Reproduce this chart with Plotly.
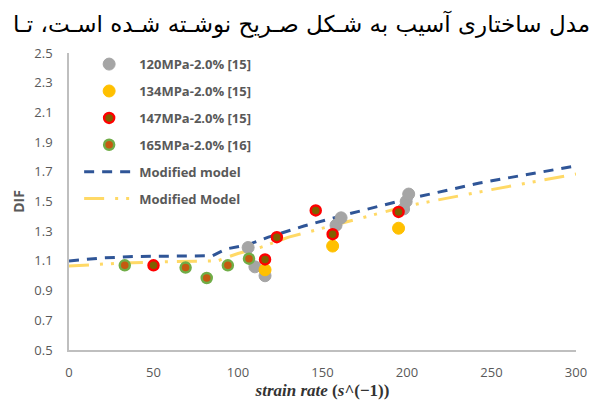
import plotly.graph_objects as go

# ---- data ----
x_120 = [106, 110, 116, 158, 161, 198, 199.5, 201]
y_120 = [1.19, 1.06, 1.00, 1.34, 1.39, 1.45, 1.50, 1.55]

x_134 = [116, 156, 195]
y_134 = [1.04, 1.20, 1.32]

x_147 = [50, 116, 123, 146, 156, 195]
y_147 = [1.07, 1.11, 1.26, 1.44, 1.28, 1.43]

x_165 = [33, 69, 81.5, 94, 106.5]
y_165 = [1.07, 1.055, 0.985, 1.07, 1.115]

x_mod1 = [0, 20, 40, 85, 93, 106, 118, 130, 139, 165, 198, 243, 300]
y_mod1 = [1.10, 1.12, 1.13, 1.135, 1.18, 1.21, 1.26, 1.30, 1.335, 1.415, 1.51, 1.625, 1.74]

x_mod2 = [0, 30, 60, 88, 95, 100, 113, 130, 160, 200, 250, 300]
y_mod2 = [1.065, 1.085, 1.095, 1.10, 1.13, 1.15, 1.19, 1.26, 1.35, 1.47, 1.58, 1.685]

names = ["120MPa-2.0% [15]", "134MPa-2.0% [15]", "147MPa-2.0% [15]",
         "165MPa-2.0% [16]", "Modified model", "Modified Model"]

x_ticks = [0, 50, 100, 150, 200, 250, 300]
y_ticks = [0.5, 0.7, 0.9, 1.1, 1.3, 1.5, 1.7, 1.9, 2.1, 2.3, 2.5]

title_text = "مدل ساختاری آسیب به شـکل صـریح نوشـته شـده اسـت، تـا"

fig = go.Figure()

fig.add_trace(go.Scatter(x=x_mod1, y=y_mod1, mode="lines", name=names[4],
                         line=dict(color="#2F5597", width=3, dash="10px,8px"),
                         legendgroup="e", legendrank=5))
fig.add_trace(go.Scatter(x=x_mod2, y=y_mod2, mode="lines", name=names[5],
                         line=dict(color="#FFD966", width=3,
                                   dash="20px,11px,3px,8px,3px,9px"),
                         legendgroup="f", legendrank=6))

fig.add_trace(go.Scatter(x=x_120, y=y_120, mode="markers", name=names[0],
                         marker=dict(color="#A5A5A5", size=12,
                                     line=dict(color="#A5A5A5", width=1)),
                         legendgroup="a", legendrank=1))
fig.add_trace(go.Scatter(x=x_134, y=y_134, mode="markers", name=names[1],
                         marker=dict(color="#FFC000", size=12,
                                     line=dict(color="#FFC000", width=1)),
                         legendgroup="b", legendrank=2))
fig.add_trace(go.Scatter(x=x_147, y=y_147, mode="markers", name=names[2],
                         marker=dict(color="#7F6000", size=10,
                                     line=dict(color="#FF0000", width=2.5)),
                         legendgroup="c", legendrank=3))
fig.add_trace(go.Scatter(x=x_165, y=y_165, mode="markers", name=names[3],
                         marker=dict(color="#C55A11", size=10,
                                     line=dict(color="#70AD47", width=2.5)),
                         legendgroup="d", legendrank=4))

fig.update_layout(
    width=596, height=402,
    margin=dict(l=69, r=20, t=53, b=52, autoexpand=False),
    paper_bgcolor="white", plot_bgcolor="white",
    font=dict(family="Open Sans, Arial, sans-serif", color="#595959", size=12),
    title=dict(text=title_text, xref="container", x=0.99, xanchor="right",
               yref="container", y=0.94, yanchor="middle",
               font=dict(family="DejaVu Sans", size=23, color="black")),
    legend=dict(x=0.02, y=1.013, xanchor="left", yanchor="top",
                bgcolor="rgba(255,255,255,0)", itemwidth=50,
                traceorder="grouped", tracegroupgap=7,
                font=dict(family="Open Sans", size=13, color="#595959",
                          weight="bold")),
    showlegend=True,
)

fig.update_xaxes(range=[0, 300], tickvals=x_ticks, ticktext=[str(v) for v in x_ticks],
                 showgrid=False, zeroline=False, showline=True,
                 linecolor="#BFBFBF", linewidth=1.5, automargin=False,
                 ticks="", ticklabelstandoff=10,
                 tickfont=dict(size=13, color="#595959"),
                 title=dict(text="<b><i>strain rate</i> (<i>s</i>^(−1))</b>",
                            standoff=2,
                            font=dict(family="Liberation Serif", size=17, color="#333333")))
fig.update_yaxes(range=[0.5, 2.5], tickvals=y_ticks,
                 ticktext=["%.1f" % v for v in y_ticks],
                 showgrid=False, zeroline=False, showline=True,
                 linecolor="#BFBFBF", linewidth=1.5, automargin=False,
                 ticks="", ticklabelstandoff=12,
                 tickfont=dict(size=13, color="#595959"),
                 title=dict(text="<b>DIF</b>", standoff=6,
                            font=dict(family="Open Sans", size=14, color="#595959")))

fig.write_html("out.html")
